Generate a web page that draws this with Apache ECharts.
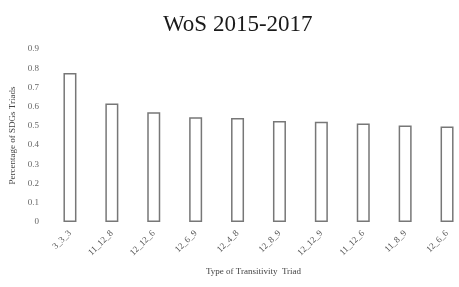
<!DOCTYPE html>
<html>
<head>
<meta charset="utf-8">
<script src="https://cdn.jsdelivr.net/npm/echarts@6/dist/echarts.min.js"></script>
<style>
  html, body { margin: 0; padding: 0; background: #fff; }
  #main { width: 459px; height: 287px; }
</style>
</head>
<body>
<div id="main"></div>
<script>
// triad types and their share
var triads = ['3_3_3', '11_12_8', '12_12_6', '12_6_9', '12_4_8', '12_8_9', '12_12_9', '11_12_6', '11_8_9', '12_6_6'];
var shares = [0.775, 0.616, 0.571, 0.545, 0.541, 0.526, 0.522, 0.512, 0.502, 0.497];

var chart = echarts.init(document.getElementById('main'));

var serif = '"Liberation Serif", "DejaVu Serif", serif';

var option = {
  backgroundColor: '#fff',
  title: {
    text: 'WoS 2015-2017',
    left: 158,
    top: 8,
    textStyle: {
      fontFamily: serif,
      fontWeight: 'normal',
      fontSize: 23,
      color: '#1a1a1a'
    }
  },
  grid: {
    left: 49,
    width: 419,
    top: 49,
    bottom: 65,
    outerBoundsMode: 'none' // let the plot run past the right edge like the original
  },
  xAxis: {
    type: 'category',
    data: triads,
    name: 'Type of Transitivity  Triad',
    nameLocation: 'middle',
    nameGap: 45,
    nameTextStyle: { fontFamily: serif, fontSize: 9, color: '#444', padding: [0, 10, 0, 0] },
    axisLine: { show: false },
    axisTick: { show: false },
    axisLabel: {
      rotate: 45,
      interval: 0,
      margin: 10,
      fontFamily: serif,
      fontSize: 9,
      color: '#555'
    }
  },
  yAxis: {
    type: 'value',
    min: 0,
    max: 0.9,
    interval: 0.1,
    name: 'Percentage of SDGs Triads',
    nameLocation: 'middle',
    nameGap: 30,
    nameTextStyle: { fontFamily: serif, fontSize: 9, color: '#444' },
    axisLine: { show: false },
    axisTick: { show: false },
    splitLine: { show: false },
    axisLabel: {
      margin: 10,
      fontFamily: serif,
      fontSize: 9,
      color: '#666'
    }
  },
  series: [{
    type: 'bar',
    data: shares,
    barWidth: 13,
    itemStyle: {
      color: '#fff',
      borderColor: '#777',
      borderWidth: 1.5
    }
  }]
};

chart.setOption(option);
</script>
</body>
</html>
